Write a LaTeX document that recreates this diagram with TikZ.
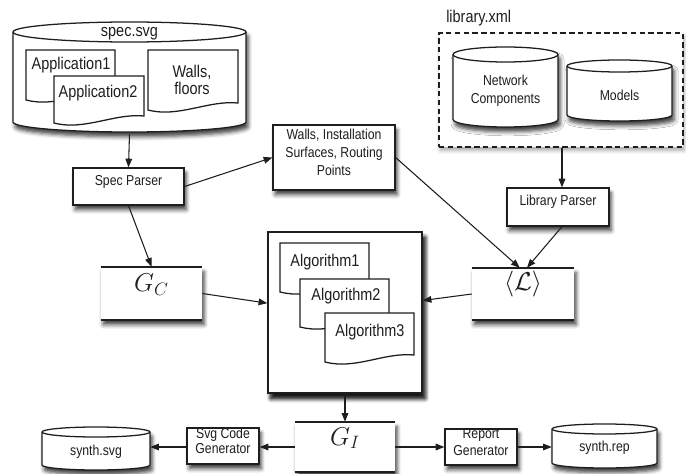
\documentclass[tikz,border=0pt]{standalone}
\usepackage{graphicx}
\usepackage{fontspec}
\setmainfont{Liberation Sans}[FakeStretch=0.85]
\usetikzlibrary{arrows.meta,shadows.blur,fit,calc}

\definecolor{ink}{HTML}{1E1E1E}

% cylinder: left x, right x, top y, bottom y, ellipse radius
\newcommand\cylpath[5]{%
  \pgfmathsetmacro\crx{(#2-#1)/2}%
  \path[cylfill] (#1,#3+#5) -- (#1,#4-#5)
     arc[start angle=180,end angle=0,x radius=\crx,y radius=#5]
     -- (#2,#3+#5)
     arc[start angle=0,end angle=-180,x radius=\crx,y radius=#5] -- cycle;
  \draw[line] (#1,#3+#5) arc[start angle=180,end angle=0,x radius=\crx,y radius=#5];
}
% document sheet with wavy bottom: left x, right x, top y, bottom-left y
\newcommand\docpath[5][]{%
  \pgfmathsetmacro\dca{#2+0.34*(#3-#2)}%
  \pgfmathsetmacro\dcb{#2+0.67*(#3-#2)}%
  \path[docfill,#1] (#2,#4) -- (#3,#4) -- (#3,#5-7)
     .. controls (\dcb,#5-10) and (\dca,#5+8) .. (#2,#5) -- cycle;
}
% large math label
\newcommand\bigmath[1]{\scalebox{1.12}{\fontsize{17.28}{18}\selectfont$#1$}}

\begin{document}
\begin{tikzpicture}[x=0.75pt,y=-0.75pt,
  line/.style={draw=ink, line width=0.95pt},
  shad/.style={blur shadow={shadow xshift=1.6pt, shadow yshift=-3.6pt,
     shadow blur radius=3pt, shadow opacity=75}},
  cylfill/.style={line, fill=white, shad},
  docfill/.style={line, fill=white},
  box/.style={line, fill=white, shad, inner sep=0pt, align=center,
     text=ink, font=\fsmall},
  mbox/.style={fill=white, shad, inner sep=0pt, text=ink},
  txt/.style={inner sep=0pt, align=center, text=ink},
  edge/.style={draw=ink, line width=1.2pt},
  arr/.style={draw=ink, line width=0.8pt, -{Triangle[length=6.5pt,width=5pt]}}]

\newcommand\fbig{\fontsize{12.75}{13}\selectfont}
\newcommand\fsmall{\fontsize{10.8}{13.5}\selectfont}

\useasboundingbox (0,0) rectangle (686,474);

% ---- spec.svg store
\cylpath{13}{246}{22}{132}{10}
\node[fit={(13,22)(246,132)}, inner sep=0pt] (spec) {};
\node[txt, font=\fbig] (spectitle) at (129.5,34) {spec.svg};
\docpath{26}{115}{50}{100}
\node[txt, font=\fbig] (app1) at (71,65) {Application1};
\docpath{54}{144}{76}{123}
\node[txt, font=\fbig] (app2) at (98,93) {Application2};
\docpath{148}{238}{50}{110}
\node[txt, font=\fbig] (walls) at (192,80) {Walls,\\floors};

% ---- parsers and intermediate data
\node[box, fit={(73,168)(184,205)}] (parser) {Spec Parser};
\node[box, fit={(273,125)(395,190)}] (surf)
  {Walls, Installation\\Surfaces, Routing\\Points};

% ---- library.xml
\node[txt, font=\fbig, anchor=west] (libtitle) at (446,18) {library.xml};
\node[draw=ink, line width=0.9pt, dash pattern=on 4pt off 2.6pt, fill=white,
      blur shadow={shadow xshift=1pt, shadow yshift=-2.5pt, shadow blur radius=3pt,
      shadow opacity=35},
      fit={(439,33)(683,147)}, inner sep=0pt] (lib) {};
\cylpath{453}{558}{47}{127}{7.5}
\node[txt, font=\fsmall] (netc) at (505.5,91) {Network\\Components};
\cylpath{567}{672}{60}{121}{6}
\node[txt, font=\fsmall] (models) at (619.5,95) {Models};
\node[box, fit={(507,188)(609,226)}] (libp) {Library Parser};

% ---- G_C and <L>
\node[mbox, fit={(101,267)(202,320)}] (gc) {\bigmath{G_C}};
\draw[edge] (gc.north west) -- (gc.north east) (gc.south west) -- (gc.south east);
\node[mbox, fit={(472,268)(574,320)}] (lang) {\bigmath{\langle\mathcal{L}\rangle}};
\draw[edge] (lang.north west) -- (lang.north east) (lang.south west) -- (lang.south east);

% ---- algorithms
\node[box, line width=1.1pt, fit={(268,232)(422,393)},
      blur shadow={shadow xshift=2.2pt, shadow yshift=-4pt,
      shadow blur radius=3.2pt, shadow opacity=75}] (algs) {};
\docpath{280}{369}{243}{292}
\node[txt, font=\fbig] (alg1) at (325,262) {Algorithm1};
\docpath{300}{389}{279}{327}
\node[txt, font=\fbig] (alg2) at (346,296) {Algorithm2};
\docpath{325}{414}{313}{362}
\node[txt, font=\fbig] (alg3) at (370,332) {Algorithm3};

% ---- G_I and outputs
\node[mbox, fit={(295,422)(395,472)}] (gi) {\bigmath{G_I}};
\draw[edge] (gi.north west) -- (gi.north east) (gi.south west) -- (gi.south east);
\node[box, fit={(187,428)(259,464)}, font=\fontsize{10.8}{11.4}\selectfont]
  (svgc) {Svg Code\\Generator};
\node[box, fit={(445,429)(517,465)}, font=\fontsize{10.8}{12.6}\selectfont]
  (repg) {Report\\Generator};
\cylpath{42}{150}{427}{470}{5}
\node[fit={(42,427)(150,470)}, inner sep=0pt] (ssvg) {};
\node[txt, font=\fsmall] (ssvgt) at (96,452) {synth.svg};
\cylpath{552}{657}{424}{468}{5}
\node[fit={(552,424)(657,468)}, inner sep=0pt] (srep) {};
\node[txt, font=\fsmall] (srept) at (604.5,448) {synth.rep};

% ---- connectors
\draw[arr] ([yshift=-1.5pt]spec.south) -- (parser.north);
\draw[arr] (parser.east) -- (surf.west);
\draw[arr] (parser.south) -- (gc.north);
\draw[arr] (surf.east) -- ([xshift=-2.5pt]lang.north);
\draw[arr] (lib.south -| 562,0) -- (libp.north -| 562,0);
\draw[arr] (libp.south -| 562,0) -- ([xshift=3pt]lang.north);
\draw[arr] (gc.east) -- ([yshift=7pt]algs.west);
\draw[arr] (lang.west) -- ([yshift=9pt]algs.east);
\draw[arr] (algs.south) -- (gi.north);
\draw[arr] (gi.west |- 0,447) -- (svgc.east |- 0,447);
\draw[arr] (svgc.west |- 0,447) -- (ssvg.east |- 0,447);
\draw[arr] (gi.east |- 0,447) -- (repg.west |- 0,447);
\draw[arr] (repg.east |- 0,447) -- (srep.west |- 0,447);
\end{tikzpicture}
\end{document}
